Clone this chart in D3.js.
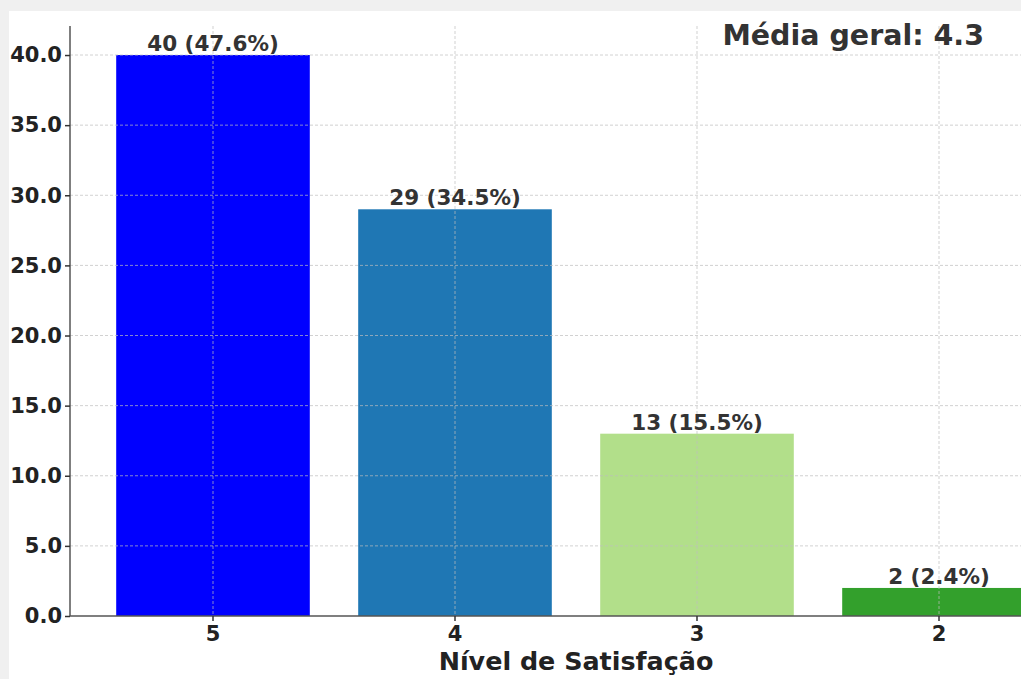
<!DOCTYPE html>
<html>
<head>
<meta charset="utf-8">
<script src="https://cdn.jsdelivr.net/npm/d3@7"></script>
<style>
  html, body { margin: 0; padding: 0; background: #f0f0f0; }
  svg { display: block; }
</style>
</head>
<body>
<svg id="chart" width="1021" height="679"></svg>
<script>
// Satisfaction levels and response counts
const levels = ["5", "4", "3", "2"];
const counts = [40, 29, 13, 2];
const percents = [47.6, 34.5, 15.5, 2.4];
const barColors = ["#0000ff", "#1f77b4", "#b2df8a", "#33a02c"];
const yTicks = [0, 5, 10, 15, 20, 25, 30, 35, 40];
const overallMean = 4.3;

const W = 1021, H = 679;
const svg = d3.select("#chart");
const font = "'DejaVu Sans', sans-serif";

// white figure area inside the light frame
svg.append("rect").attr("x", 9).attr("y", 11).attr("width", W - 9).attr("height", H - 11).attr("fill", "#ffffff");

const plotLeft = 70, plotBottom = 616, plotTop = 26;

const x = d3.scaleBand()
  .domain(levels)
  .range([92, 92 + 4 * 242])
  .paddingInner(0.2)
  .paddingOuter(0.1);

const y = d3.scaleLinear().domain([0, 42.07]).range([plotBottom, plotTop]);

const plot = svg.append("g");
plot.append("clipPath").attr("id", "clip")
  .append("rect").attr("x", plotLeft).attr("y", 0).attr("width", W - plotLeft).attr("height", plotBottom);

// bars
plot.append("g").attr("clip-path", "url(#clip)")
  .selectAll("rect").data(levels).join("rect")
  .attr("x", d => x(d))
  .attr("y", (d, i) => y(counts[i]))
  .attr("width", x.bandwidth())
  .attr("height", (d, i) => y(0) - y(counts[i]))
  .attr("fill", (d, i) => barColors[i]);

// grid lines drawn over the bars
const grid = plot.append("g").attr("stroke", "rgba(190,190,190,0.7)").attr("stroke-width", 1).attr("stroke-dasharray", "3,2");
grid.selectAll("line.h").data(yTicks.filter(t => t > 0)).join("line")
  .attr("class", "h")
  .attr("x1", plotLeft).attr("x2", W)
  .attr("y1", d => y(d)).attr("y2", d => y(d));
grid.selectAll("line.v").data(levels).join("line")
  .attr("class", "v")
  .attr("x1", d => x(d) + x.bandwidth() / 2).attr("x2", d => x(d) + x.bandwidth() / 2)
  .attr("y1", plotTop).attr("y2", plotBottom);

// y axis
const yAxis = svg.append("g")
  .attr("transform", `translate(${plotLeft},0)`)
  .call(d3.axisLeft(y).tickValues(yTicks).tickFormat(d3.format(".1f")).tickSize(5).tickPadding(3));
yAxis.select(".domain").attr("stroke", "#555").attr("stroke-width", 1.5).attr("d", `M0,${plotTop}V${plotBottom}`);
yAxis.selectAll(".tick line").attr("stroke", "#333").attr("stroke-width", 1.5);
yAxis.selectAll(".tick text")
  .attr("font-family", font).attr("font-weight", "bold").attr("font-size", 21).attr("fill", "#222");

// x axis
const xAxis = svg.append("g")
  .attr("transform", `translate(0,${plotBottom})`)
  .call(d3.axisBottom(x).tickSize(5).tickPadding(5));
xAxis.select(".domain").attr("stroke", "#555").attr("stroke-width", 1.5).attr("d", `M${plotLeft},0H${W}`);
xAxis.selectAll(".tick line").attr("stroke", "#333").attr("stroke-width", 1.5);
xAxis.selectAll(".tick text")
  .attr("font-family", font).attr("font-weight", "bold").attr("font-size", 21).attr("fill", "#222");

// value labels
svg.append("g").selectAll("text").data(levels).join("text")
  .attr("x", d => x(d) + x.bandwidth() / 2)
  .attr("y", (d, i) => y(counts[i]) - 4)
  .attr("text-anchor", "middle")
  .attr("font-family", font).attr("font-weight", "bold").attr("font-size", 21.5)
  .attr("fill", "#333")
  .text((d, i) => `${counts[i]} (${percents[i].toFixed(1)}%)`);

// x axis title
svg.append("text")
  .attr("x", 576).attr("y", 670)
  .attr("text-anchor", "middle")
  .attr("font-family", font).attr("font-weight", "bold").attr("font-size", 25.4)
  .attr("fill", "#222")
  .text("Nível de Satisfação");

// overall mean annotation
svg.append("text")
  .attr("x", 984).attr("y", 45)
  .attr("text-anchor", "end")
  .attr("font-family", font).attr("font-weight", "bold").attr("font-size", 28.5)
  .attr("fill", "#333")
  .text(`Média geral: ${overallMean}`);
</script>
</body>
</html>
